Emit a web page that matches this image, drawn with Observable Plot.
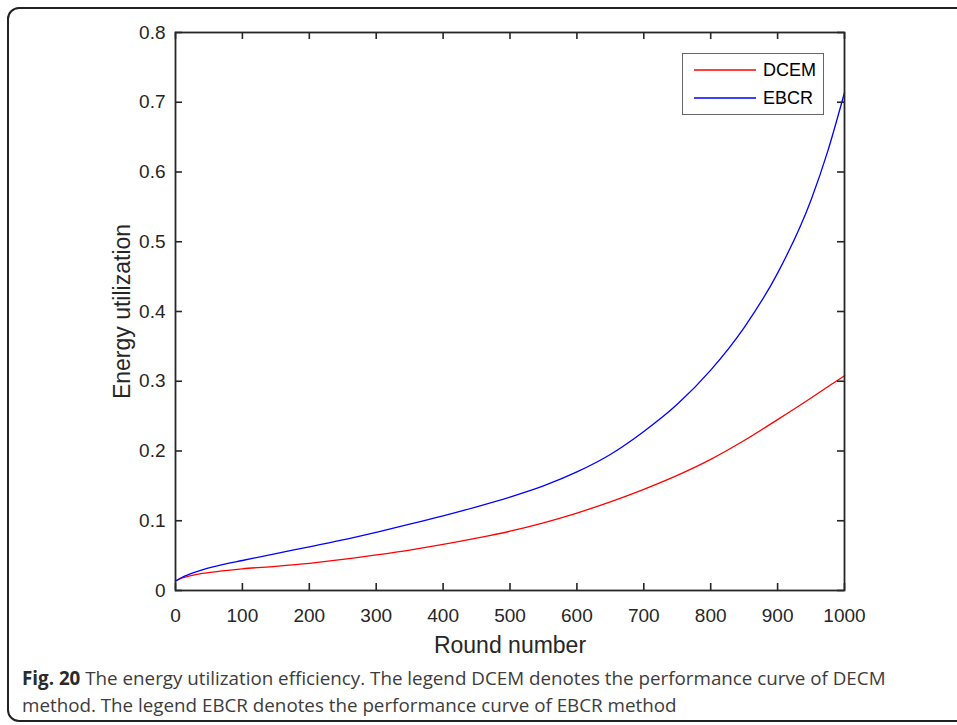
<!DOCTYPE html>
<html>
<head>
<meta charset="utf-8">
<script src="https://cdn.jsdelivr.net/npm/d3@7"></script>
<script src="https://cdn.jsdelivr.net/npm/@observablehq/plot@0.6"></script>
<style>
html, body { margin: 0; padding: 0; background: #fff; overflow: hidden; }
#page { position: relative; width: 957px; height: 725px; overflow: hidden; }
#border { position: absolute; left: 7px; top: 7px; width: 1000px; height: 715px; border: 2px solid #222; border-radius: 12px; box-sizing: border-box; }
#chart { position: absolute; left: 0; top: 0; }
#legend { position: absolute; left: 682px; top: 53px; width: 142px; height: 62px; border: 1px solid #666; background: #fff; box-sizing: border-box; }
#caption { position: absolute; left: 22px; top: 665px; font-family: "Open Sans", sans-serif; font-size: 18.8px; line-height: 26.5px; color: #3c3c3c; white-space: nowrap; }
#caption b { color: #2a2a2a; }
</style>
</head>
<body>
<div id="page">
  <div id="border"></div>
  <div id="chart"></div>
  <div id="legend"></div>
  <div id="caption"></div>
</div>
<script>
// ---- data ----
const rounds = [0, 10, 20, 40, 70, 100, 150, 200, 250, 300, 350, 400, 450, 500, 550, 600, 650, 700, 750, 800, 850, 900, 950, 975, 1000];
const dcem   = [0.0136, 0.018, 0.0205, 0.0245, 0.028, 0.031, 0.0347, 0.039, 0.0445, 0.051, 0.058, 0.066, 0.075, 0.085, 0.097, 0.111, 0.127, 0.145, 0.165, 0.188, 0.215, 0.245, 0.276, 0.292, 0.308];
const ebcr   = [0.0136, 0.019, 0.023, 0.0295, 0.037, 0.043, 0.053, 0.0625, 0.0725, 0.0835, 0.095, 0.107, 0.12, 0.134, 0.150, 0.170, 0.195, 0.228, 0.267, 0.316, 0.377, 0.455, 0.56, 0.63, 0.714];
const seriesNames  = ["DCEM", "EBCR"];
const seriesColors = ["#ff0000", "#0000ff"];
const xTicks = [0, 100, 200, 300, 400, 500, 600, 700, 800, 900, 1000];
const yTicks = [0, 0.1, 0.2, 0.3, 0.4, 0.5, 0.6, 0.7, 0.8];
const xLabel = "Round number";
const yLabel = "Energy utilization";
const captionBold = "Fig. 20";
const captionLines = [
  " The energy utilization efficiency. The legend DCEM denotes the performance curve of DECM",
  "method. The legend EBCR denotes the performance curve of EBCR method"
];

// ---- build ----
const seriesValues = [dcem, ebcr];
const data = seriesNames.flatMap((name, s) =>
  rounds.map((r, i) => ({ round: r, value: seriesValues[s][i], series: name })));

const W = 957, H = 660, mL = 175, mR = 113, mT = 32, mB = 70;
const plotW = W - mL - mR, plotH = H - mT - mB;
const axisColor = "#262626";
const font = "'Liberation Sans', Arial, sans-serif";

const chart = Plot.plot({
  width: W, height: H,
  marginLeft: mL, marginRight: mR, marginTop: mT, marginBottom: mB,
  style: { background: "none", overflow: "visible", fontFamily: font, fontSize: "19px", color: axisColor },
  x: { domain: [0, 1000] },
  y: { domain: [0, 0.8] },
  color: { domain: seriesNames, range: seriesColors },
  marks: [
    Plot.line(data, { x: "round", y: "value", stroke: "series", z: "series", curve: "monotone-x", strokeWidth: 1.3 }),
    Plot.ruleX(xTicks, { x: d => d, insetTop: plotH - 7, stroke: axisColor, strokeWidth: 1.6 }),
    Plot.ruleX(xTicks, { x: d => d, insetBottom: plotH - 7, stroke: axisColor, strokeWidth: 1.6 }),
    Plot.ruleY(yTicks, { y: d => d, insetRight: plotW - 7, stroke: axisColor, strokeWidth: 1.6 }),
    Plot.ruleY(yTicks, { y: d => d, insetLeft: plotW - 7, stroke: axisColor, strokeWidth: 1.6 }),
    Plot.frame({ stroke: axisColor, strokeWidth: 1.8 }),
    Plot.axisX(xTicks, { tickSize: 0, tickPadding: 18, tickFormat: d => String(d), label: null, fontSize: 19 }),
    Plot.axisY(yTicks, { tickSize: 0, tickPadding: 10, tickFormat: d => String(d), label: null, fontSize: 19 }),
    Plot.text([xLabel], { text: d => d, frameAnchor: "bottom", dy: 55, fontSize: 23, fill: axisColor, textAnchor: "middle", lineAnchor: "middle" }),
    Plot.text([yLabel], { text: d => d, frameAnchor: "left", dx: -53, rotate: -90, fontSize: 23, fill: axisColor, textAnchor: "middle", lineAnchor: "middle" })
  ]
});
document.getElementById("chart").appendChild(chart);

// legend
const ns = "http://www.w3.org/2000/svg";
const lg = document.createElementNS(ns, "svg");
lg.setAttribute("width", 140); lg.setAttribute("height", 60);
seriesNames.forEach((name, i) => {
  const y = 16 + i * 28;
  const ln = document.createElementNS(ns, "line");
  ln.setAttribute("x1", 11); ln.setAttribute("x2", 73);
  ln.setAttribute("y1", y); ln.setAttribute("y2", y);
  ln.setAttribute("stroke", seriesColors[i]); ln.setAttribute("stroke-width", 1.3);
  lg.appendChild(ln);
  const t = document.createElementNS(ns, "text");
  t.setAttribute("x", 80); t.setAttribute("y", y);
  t.setAttribute("dy", "0.35em");
  t.setAttribute("font-family", font); t.setAttribute("font-size", 18);
  t.setAttribute("fill", "#000");
  t.textContent = name;
  lg.appendChild(t);
});
document.getElementById("legend").appendChild(lg);

// caption
const cap = document.getElementById("caption");
const b = document.createElement("b");
b.textContent = captionBold;
cap.appendChild(b);
cap.appendChild(document.createTextNode(captionLines[0]));
cap.appendChild(document.createElement("br"));
cap.appendChild(document.createTextNode(captionLines[1]));
</script>
</body>
</html>
